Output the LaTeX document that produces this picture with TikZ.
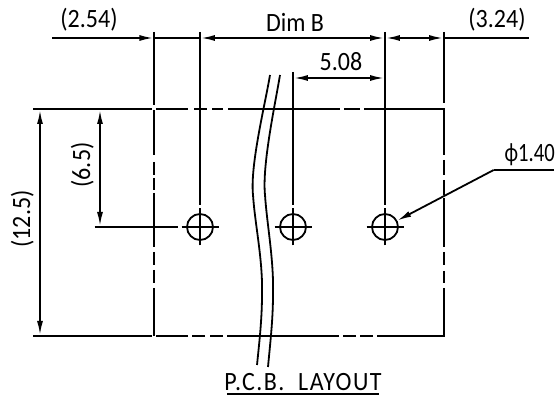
\documentclass[tikz,border=0pt]{standalone}
\usepackage{fontspec}
\setmainfont{Carlito}
\usetikzlibrary{arrows.meta}
\newcommand{\lbl}[1]{\scalebox{1}[1.1]{#1}}
\tikzset{
  ln/.style={draw=black,line width=1.8pt},
  dim/.style={ln,{Latex[length=14pt,width=6pt]}-{Latex[length=14pt,width=6pt]}},
  dimend/.style={ln,-{Latex[length=14pt,width=6pt]}},
  lab/.style={font=\fontsize{24}{24}\selectfont,inner sep=0pt,text=black,anchor=base},
  hole/.style={circle,draw=black,line width=1.8pt,minimum size=26pt,inner sep=0pt}
}
\begin{document}
\begin{tikzpicture}[x=1pt,y=-1pt]
\useasboundingbox (0,0) rectangle (557,395);
\fill[white] (0,0) rectangle (557,395);
% holes
\node[hole] (h1) at (200,227) {};
\node[hole] (h2) at (293,227) {};
\node[hole] (h3) at (385,227) {};
% extension lines
\draw[ln] (154,32) -- (154,105);
\draw[ln] (200,32) -- (200,205);
\draw[ln] (293,72) -- (293,205);
\draw[ln] (385,32) -- (385,205);
\draw[ln] (444,32) -- (444,103);
% cross marks
\foreach \n in {h1,h2,h3}{
  \draw[ln] ([xshift=-18.5pt]\n.center) -- ([xshift=18.5pt]\n.center);
  \draw[ln] ([yshift=-18.5pt]\n.center) -- ([yshift=18.5pt]\n.center);
}
% board outline
\draw[ln] (33,109) -- (152,109) (156,109) -- (188,109) (194,109) -- (207,109) (212,109) -- (223,109) (228,109) -- (340,109) (344,109) -- (360,109) (364,109) -- (378,109);
\draw[ln] (378,109) -- (444,109) -- (444,155) (444,160) -- (444,175) (444,180) -- (444,195) (444,198) -- (444,247) (444,252) -- (444,265) (444,271) -- (444,283) (444,288) -- (444,336) -- (377,336) (373,336) -- (360,336) (356,336) -- (343,336) (339,336) -- (227,336) (223,336) -- (210,336) (205,336) -- (192,336) (188,336) -- (155.5,336) (152,336) -- (33,336);
\draw[ln] (154,110.5) -- (154,155) (154,162) -- (154,175) (154,178) -- (154,190) (154,193) -- (154,247) (154,252) -- (154,265) (154,270) -- (154,283) (154,288) -- (154,336);
% leader for (6.5)
\draw[ln] (94.5,227) -- (178,227);
% dimensions
\coordinate (a1) at (52,38);
\coordinate (a2) at (153.4,38);
\draw[dimend] (a1) -- (a2);
\draw[ln] (154,38) -- (200,38);
\coordinate (b1) at (200.9,38);
\coordinate (b2) at (384.1,38);
\draw[dim] (b1) -- (b2);
\coordinate (c1) at (385.9,38);
\coordinate (c2) at (443.1,38);
\draw[dim] (c1) -- (c2);
\draw[ln] (444,38) -- (529,38);
\coordinate (d1) at (293.9,78);
\coordinate (d2) at (384.1,78);
\draw[dim] (d1) -- (d2);
\coordinate (e1) at (40,110);
\coordinate (e2) at (40,335);
\draw[dim] (e1) -- (e2);
\coordinate (f1) at (100,110);
\coordinate (f2) at (100,226);
\draw[dim] (f1) -- (f2);
% diameter leader
\coordinate (g1) at (554,170);
\coordinate (g2) at (493.7,170);
\draw[ln] (g1) -- (g2);
\draw[dimend] (g2) -- (h3);
% break lines
\draw[ln] (270,75) .. controls (265,105) and (250,165) .. (253,195) .. controls (255,225) and (263,260) .. (262,295) .. controls (262,320) and (259,345) .. (257,365);
\draw[ln] (280,75) .. controls (275,105) and (262,165) .. (265,195) .. controls (267,225) and (274,260) .. (273,295) .. controls (273,320) and (270,345) .. (268,367);
% labels
\node[lab] (t1) at (89,27.5) {\lbl{(2.54)}};
\node[lab] (t2) at (295,32) {\lbl{Dim B}};
\node[lab] (t3) at (497,28) {\lbl{(3.24)}};
\node[lab] (t4) at (341,71) {\lbl{5.08}};
\node[lab,rotate=90] (t5) at (90,165) {\lbl{(6.5)}};
\node[lab,rotate=90] (t6) at (30,219) {\lbl{(12.5)}};
\node[lab,anchor=base east] (t7) at (555,162) {\scalebox{0.86}[1.1]{ϕ1.40}};
\node[lab] (t8) at (303,390) {\lbl{\addfontfeature{LetterSpace=6}P.C.B.\ \ LAYOUT}};
\draw[ln] (227,394) -- (379,394);
\end{tikzpicture}
\end{document}
